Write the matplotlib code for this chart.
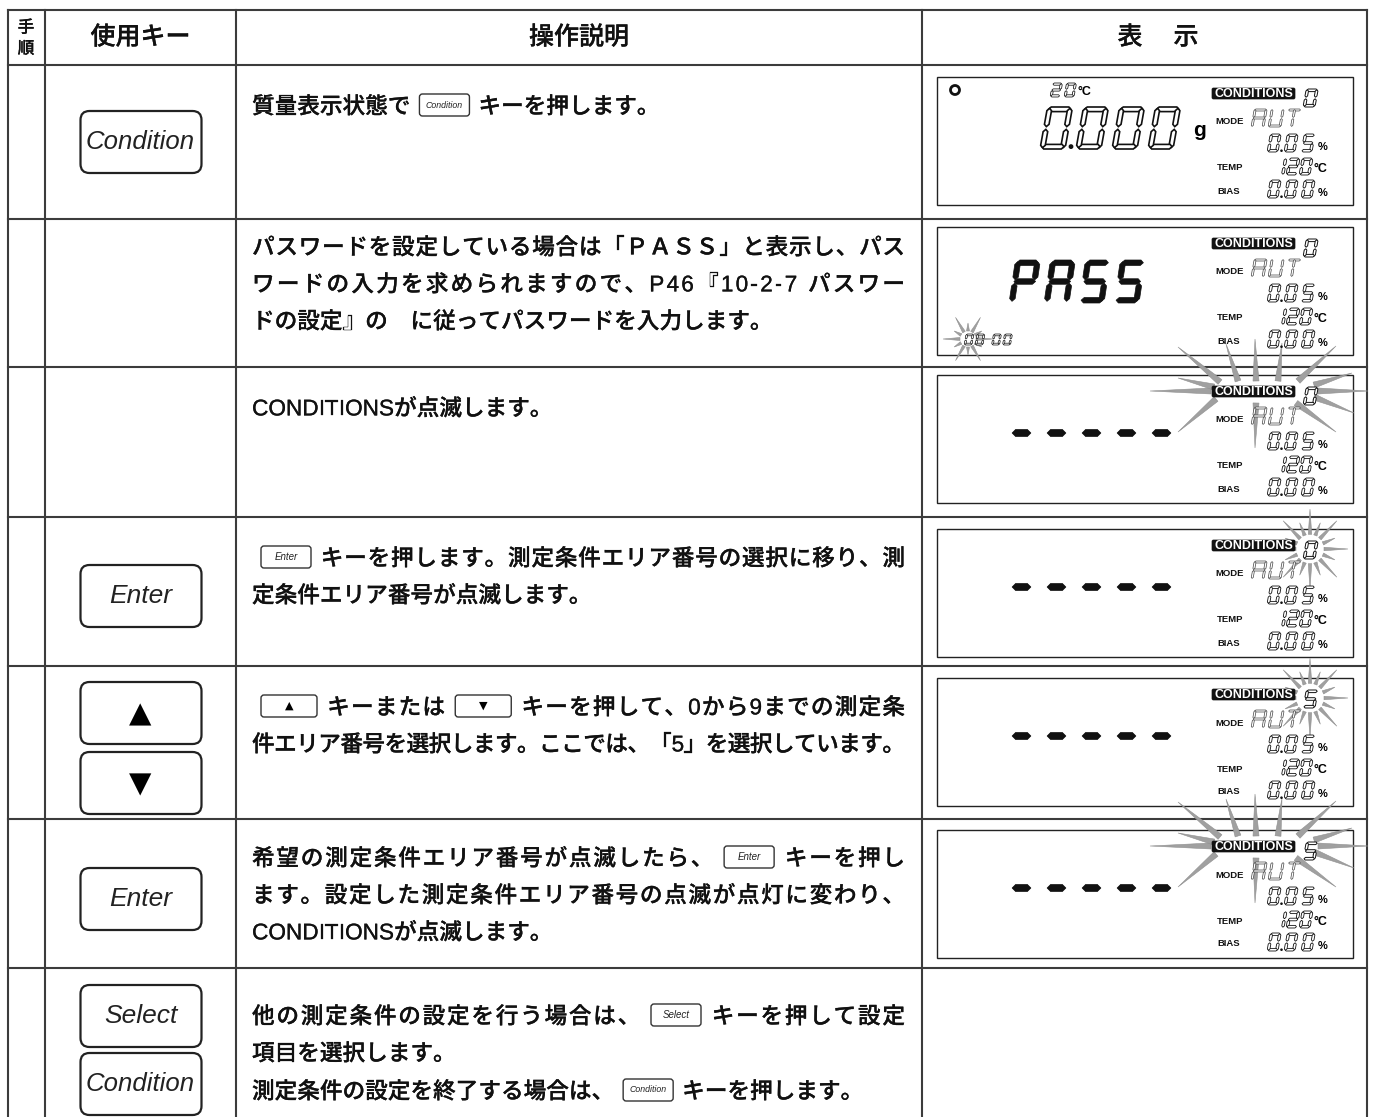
import numpy as np
import matplotlib
matplotlib.use("Agg")
import matplotlib.pyplot as plt
import matplotlib.patheffects as pe
from matplotlib.patches import Polygon, FancyBboxPatch, Circle, Rectangle
from matplotlib import font_manager
from matplotlib.ft2font import FT2Font

# --- table content ---
HEADER_STEP = ["手", "順"]
HEADER_KEY = "使用キー"
HEADER_DESC = "操作説明"
HEADER_DISP = ["表", "示"]

KEYS = [["Condition"], [], [], ["Enter"], ["▲", "▼"], ["Enter"], ["Select", "Condition"]]

# (line text, justified); {Name} marks a small inline key icon
DESC = [
    [("質量表示状態で{Condition}キーを押します。", False)],
    [("パスワードを設定している場合は「ＰＡＳＳ」と表示し、パス", True),
     ("ワードの入力を求められますので、P46『10-2-7 パスワー", True),
     ("ドの設定』の　に従ってパスワードを入力します。", False)],
    [("CONDITIONSが点滅します。", False)],
    [("{Enter}キーを押します。測定条件エリア番号の選択に移り、測", True),
     ("定条件エリア番号が点滅します。", False)],
    [("{▲}キーまたは{▼}キーを押して、0から9までの測定条", True),
     ("件エリア番号を選択します。ここでは、「5」を選択しています。", True)],
    [("希望の測定条件エリア番号が点滅したら、{Enter}キーを押し", True),
     ("ます。設定した測定条件エリア番号の点滅が点灯に変わり、", True),
     ("CONDITIONSが点滅します。", False)],
    [("他の測定条件の設定を行う場合は、{Select}キーを押して設定", True),
     ("項目を選択します。", False),
     ("測定条件の設定を終了する場合は、{Condition}キーを押します。", False)],
]

# --- LCD content per row ---
LCD_MAIN = ["0.000", "PASS", "-----", "-----", "-----", "-----"]
LCD_AREA = ["0", "0", "0", "0", "5", "5"]
LCD_MODE = "AUT"
LCD_RATE = "0.05"
LCD_TEMP = "120"
LCD_BIAS = "0.00"
LCD_TOP_TEMP = "20"
LCD_PASSWORD = "00 00"
LCD_BLINK = [None, "pwd", "label", "digit", "digit", "label"]

# --- layout (pixels) ---
W, H = 1374, 1117
COL_X = [8, 45, 236, 922, 1367]
ROW_Y = [10, 65, 219, 367, 517, 666, 819, 968, 1117]
LINE_OFF = [[40], [27, 64, 101], [40], [40, 77], [40, 77], [38, 75, 112], [47, 84, 122]]
KEY_CY = [[142], [], [], [596], [713, 783], [899], [1016, 1084]]
BOX_TOP = [77, 227, 375, 529, 678, 830]
TEXT_X0, TEXT_X1 = 252, 905

CJK = "Noto Sans CJK JP"
LAT = "Liberation Sans"
FS = 16.3
WEIGHT = "medium"
LINE_C = "#3c3c3c"
HEAVY = [pe.withStroke(linewidth=0.18, foreground="#111")]

fig = plt.figure(figsize=(W / 100, H / 100), dpi=100)
ax = fig.add_axes([0, 0, 1, 1])
ax.set_xlim(0, W)
ax.set_ylim(H, 0)
ax.axis("off")


def _load(fam):
    try:
        return FT2Font(font_manager.findfont(font_manager.FontProperties(family=fam)))
    except Exception:
        return None


_ft_cjk = _load(CJK)
_ft_lat = _load(LAT)


def advance(ch, size):
    ft = _ft_lat if ord(ch) < 128 else _ft_cjk
    if ft is not None:
        try:
            ft.set_size(size, 100)
            return ft.load_char(ord(ch)).linearHoriAdvance / 65536.0
        except Exception:
            pass
    em = size * 100 / 72
    return em * (0.55 if ord(ch) < 128 else 1.0)


def parse(line):
    out = []
    i = 0
    while i < len(line):
        if line[i] == "{":
            j = line.index("}", i)
            out.append(("key", line[i + 1:j]))
            i = j + 1
        else:
            out.append(("ch", line[i]))
            i += 1
    return out


ICON_W = {"Condition": 50, "Enter": 50, "Select": 50, "▲": 56, "▼": 56}
ICON_GAP = 9


def draw_icon(x, yc, name):
    w = ICON_W[name]
    ax.add_patch(FancyBboxPatch((x, yc - 11), w, 22, boxstyle="round,pad=0,rounding_size=3",
                                lw=1.0, ec="#333", fc="white", zorder=3))
    if name in ("▲", "▼"):
        ax.text(x + w / 2, yc, name, fontsize=8, family="DejaVu Sans", ha="center", va="center", zorder=4)
    else:
        fs = 6.3 if name == "Condition" else 7
        ax.text(x + w / 2, yc, name, fontsize=fs, family=LAT, style="italic",
                ha="center", va="center", zorder=4, color="#222")


def draw_line(line, yc, justify):
    units = []
    for kind, val in parse(line):
        if kind == "key":
            units.append((kind, val, ICON_W[val] + 2 * ICON_GAP))
        else:
            units.append((kind, val, advance(val, FS)))
    total = sum(u[2] for u in units)
    extra = (TEXT_X1 - TEXT_X0 - total) / (len(units) - 1) if justify and len(units) > 1 else 0
    x = TEXT_X0
    base = yc + 0.37 * FS * 100 / 72
    for kind, val, w in units:
        if kind == "key":
            draw_icon(x + ICON_GAP, yc, val)
        elif val.strip() and val != "\u3000":
            fam = [LAT, "DejaVu Sans"] if ord(val) < 128 else [CJK, "DejaVu Sans"]
            ax.text(x + w / 2, base, val, fontsize=FS, family=fam, weight=WEIGHT,
                    ha="center", va="baseline", color="#111", path_effects=HEAVY)
        x += w + extra


def draw_key(cy, name):
    cx = (COL_X[1] + COL_X[2]) / 2
    ax.add_patch(FancyBboxPatch((cx - 60, cy - 31), 121, 62, boxstyle="round,pad=0,rounding_size=9",
                                lw=1.6, ec="#222", fc="white", zorder=3))
    if name in ("▲", "▼"):
        ax.text(cx, cy + 1, name, fontsize=21, family="DejaVu Sans", ha="center", va="center", zorder=4)
    else:
        ax.text(cx, cy, name, fontsize=19 if name != "Condition" else 18.5, family=LAT,
                style="italic", ha="center", va="center", zorder=4, color="#222")


# --- seven segment helpers ---
SEGS = {"0": "abcdef", "1": "bc", "2": "abged", "3": "abgcd", "4": "fgbc", "5": "afgcd",
        "6": "afgedc", "7": "abc", "8": "abcdefg", "9": "abcdfg", "A": "abcefg", "P": "abefg",
        "S": "afgcd", "U": "bcdef", "T": "ahi", "-": "g"}


def seg_poly(seg, w, h, t):
    g = t * 0.3
    hh = h / 2
    horiz = {"a": h - t / 2, "g": hh, "d": t / 2}
    vert = {"f": (t / 2, hh + g, h - g), "b": (w - t / 2, hh + g, h - g),
            "e": (t / 2, g, hh - g), "c": (w - t / 2, g, hh - g),
            "h": (w / 2, hh + g, h - g), "i": (w / 2, g, hh - g)}
    if seg in horiz:
        v = horiz[seg]
        return [(g, v), (g + t / 2, v + t / 2), (w - g - t / 2, v + t / 2), (w - g, v),
                (w - g - t / 2, v - t / 2), (g + t / 2, v - t / 2)]
    u, a, b = vert[seg]
    return [(u, a), (u + t / 2, a + t / 2), (u + t / 2, b - t / 2), (u, b),
            (u - t / 2, b - t / 2), (u - t / 2, a + t / 2)]


def seg_text(text, x, ybot, w, h, t, pitch, filled=False, sk=0.18, lw=0.6, ec="#111", dot=None):
    cx = x
    for ch in text:
        if ch == ".":
            r = dot if dot else max(t * 0.5, 1.3)
            ax.add_patch(Circle((cx - (pitch - w) / 2 + 0.5, ybot - r), r, fc="#111", ec="none", zorder=5))
            continue
        if ch == " ":
            cx += pitch * 0.5
            continue
        for s in SEGS.get(ch, ""):
            pts = [(cx + u + sk * v, ybot - v) for u, v in seg_poly(s, w, h, t)]
            if filled:
                ax.add_patch(Polygon(pts, closed=True, fc="#111", ec="#111", lw=0.5, zorder=5))
            else:
                ax.add_patch(Polygon(pts, closed=True, fc="white", ec=ec, lw=lw, zorder=5))
        cx += pitch


def burst(cx, cy, rays, bw):
    for dxi, dyi, dxo, dyo in rays:
        bi = np.array([cx + dxi, cy + dyi])
        to = np.array([cx + dxo, cy + dyo])
        d = to - bi
        p = np.array([-d[1], d[0]]) / (np.hypot(*d) + 1e-9)
        pts = [bi + p * bw / 2, to, bi - p * bw / 2]
        ax.add_patch(Polygon(pts, closed=True, fc="#a0a0a0", ec="#909090", lw=0.4, zorder=4))


WIDE_RAYS = [(-55, 0, -116, 0), (52, 0, 102, 0), (-52, -4, -88, -13), (-46, -9, -88, -44),
             (-28, -10, -40, -47), (-10, -10, -11, -52), (12, -10, 16, -48), (32, -10, 70, -45),
             (48, -6, 86, -18), (-50, 8, -88, 41), (-10, 12, -11, 57), (30, 12, 70, 41), (48, 6, 88, 22)]


def radial(n, r_in, r_out_a, r_out_b, sy=1.0):
    out = []
    for k in range(n):
        a = 2 * np.pi * k / n
        ro = r_out_a if k % 2 == 0 else r_out_b
        out.append((r_in * np.cos(a), -r_in * sy * np.sin(a), ro * np.cos(a), -ro * sy * np.sin(a)))
    return out


def draw_lcd(i):
    bx, by = 937, BOX_TOP[i]
    ax.add_patch(Rectangle((bx, by), 416, 128, fc="white", ec="#222", lw=1.0, zorder=2))
    if LCD_BLINK[i] == "label":
        burst(bx + 329, by + 16, WIDE_RAYS, 6)
    elif LCD_BLINK[i] == "digit":
        burst(bx + 373, by + 20, radial(16, 14, 38, 27, 1.05), 3.5)
    elif LCD_BLINK[i] == "pwd":
        burst(bx + 31, by + 112, radial(12, 8, 25, 16), 3)
    # right-hand block
    ax.add_patch(FancyBboxPatch((bx + 275, by + 11), 83, 11, boxstyle="round,pad=0,rounding_size=1.5",
                                fc="#111", ec="#111", lw=0.5, zorder=6))
    ax.text(bx + 316.5, by + 16.8, "CONDITIONS", fontsize=9, family=LAT, weight="bold",
            color="white", ha="center", va="center", zorder=7)
    seg_text(LCD_AREA[i], bx + 366, by + 30, 12, 18, 2.6, 16, lw=0.7)
    small = dict(fontsize=6.8, family=LAT, weight="bold", ha="left", va="center", zorder=6, color="#111")
    ax.text(bx + 278, by + 45, "MODE", **small)
    seg_text(LCD_MODE, bx + 314, by + 50, 13, 18, 2.0, 17, lw=0.5, ec="#444")
    seg_text(LCD_RATE, bx + 330, by + 75, 11, 18, 2.6, 17)
    ax.text(bx + 381, by + 70, "%", fontsize=8, family=LAT, weight="bold", ha="left", va="center", zorder=6)
    ax.text(bx + 280, by + 91, "TEMP", **small)
    seg_text(LCD_TEMP, bx + 336, by + 98, 11, 17, 2.6, 13)
    ax.text(bx + 377, by + 92, "°C", fontsize=9, family=LAT, weight="bold", ha="left", va="center", zorder=6)
    ax.text(bx + 280, by + 114, "BIAS", **small)
    seg_text(LCD_BIAS, bx + 330, by + 121, 11, 18, 2.6, 17)
    ax.text(bx + 381, by + 116, "%", fontsize=8, family=LAT, weight="bold", ha="left", va="center", zorder=6)
    main = LCD_MAIN[i]
    if main == "0.000":
        ax.add_patch(Circle((bx + 18, by + 13), 4.5, fc="none", ec="#111", lw=2.0, zorder=6))
        seg_text(LCD_TOP_TEMP, bx + 113, by + 20, 10, 14, 2.2, 14, lw=0.55)
        ax.text(bx + 140, by + 15, "°C", fontsize=9, family=LAT, weight="bold", ha="left", va="center", zorder=6)
        seg_text(main, bx + 103, by + 72, 25, 42, 4.6, 36, lw=1.2, dot=2.4)
        ax.text(bx + 263, by + 54, "g", fontsize=15, family=LAT, weight="bold", ha="center", va="center", zorder=6)
    elif main == "PASS":
        seg_text(main, bx + 72, by + 76, 25, 43, 5.5, 35, filled=True, sk=0.15)
        seg_text(LCD_PASSWORD, bx + 27, by + 118, 8, 11, 1.8, 11, lw=0.5)
    else:
        for k, ch in enumerate(main):
            seg_text(ch, bx + 73 + 35 * k, by + 58 + 21.5, 23, 43, 7, 35, filled=True, sk=0.0)


# --- table grid ---
for x in COL_X:
    ax.plot([x, x], [ROW_Y[0], ROW_Y[-1]], color=LINE_C, lw=1.5, zorder=1)
for y in ROW_Y[:-1]:
    ax.plot([COL_X[0], COL_X[-1]], [y, y], color=LINE_C, lw=1.5, zorder=1)

# header
hy = (ROW_Y[0] + ROW_Y[1]) / 2
hdr = dict(family=CJK, weight=WEIGHT, ha="center", va="center", color="#111", path_effects=HEAVY)
ax.text(26, hy - 10, HEADER_STEP[0], fontsize=12, **hdr)
ax.text(26, hy + 11, HEADER_STEP[1], fontsize=12, **hdr)
ax.text((COL_X[1] + COL_X[2]) / 2, hy, HEADER_KEY, fontsize=18, **hdr)
ax.text((COL_X[2] + COL_X[3]) / 2, hy, HEADER_DESC, fontsize=18, **hdr)
ax.text(1130, hy, HEADER_DISP[0], fontsize=18, **hdr)
ax.text(1186, hy, HEADER_DISP[1], fontsize=18, **hdr)

# rows
for r in range(len(DESC)):
    top = ROW_Y[r + 1]
    for (line, just), off in zip(DESC[r], LINE_OFF[r]):
        draw_line(line, top + off, just)
    for name, cy in zip(KEYS[r], KEY_CY[r]):
        draw_key(cy, name)
    if r < len(BOX_TOP):
        draw_lcd(r)

fig.savefig("out.png", dpi=100, facecolor="white")
